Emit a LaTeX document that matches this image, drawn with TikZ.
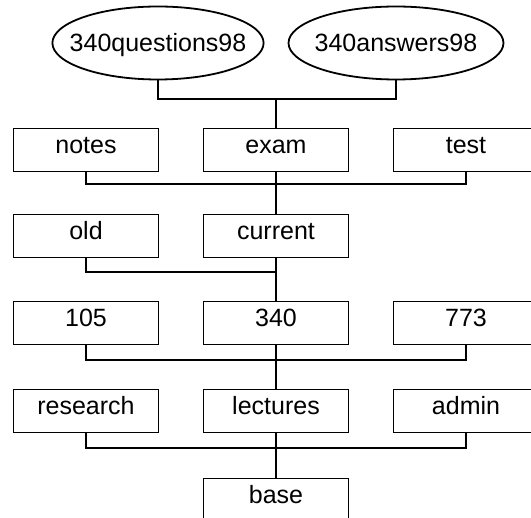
\documentclass[tikz,border=0pt]{standalone}
\usepackage{fontspec}
\setmainfont{Liberation Sans}
\usetikzlibrary{shapes.geometric}

\begin{document}
\begin{tikzpicture}[x=1pt, y=-1pt, line width=1.8pt,
  font=\fontsize{25}{30}\selectfont,
  dirbox/.style={draw, minimum width=145pt, minimum height=43pt, inner sep=0pt,
    text height=18pt, text depth=10pt},
  filebox/.style={draw, ellipse, minimum height=73pt, inner ysep=0pt,
    text height=18pt, text depth=0pt}]
  \useasboundingbox (0,0) rectangle (531,518);

  % files at the top
  \node[filebox, inner xsep=-13.6pt] (questions) at (158,43) {340questions98};
  \node[filebox, inner xsep=-5.3pt] (answers) at (396,43) {340answers98};

  % directories
  \node[dirbox] (notes) at (86,150) {notes};
  \node[dirbox] (exam) at (276,150) {exam};
  \node[dirbox] (test) at (466,150) {test};
  \node[dirbox] (old) at (86,236) {old};
  \node[dirbox] (current) at (276,236) {current};
  \node[dirbox] (c105) at (86,323) {105};
  \node[dirbox] (c340) at (276,323) {340};
  \node[dirbox] (c773) at (466,323) {773};
  \node[dirbox] (research) at (86,411) {research};
  \node[dirbox] (lectures) at (276,411) {lectures};
  \node[dirbox] (admin) at (466,411) {admin};
  \node[dirbox] (base) at (276,500) {base};

  % junctions
  \coordinate (J1) at (276,99);
  \coordinate (J2) at (276,184);
  \coordinate (J3) at (276,272);
  \coordinate (J4) at (276,360);
  \coordinate (J5) at (276,448);

  \draw (questions.south) |- (J1) -| (answers.south);
  \draw (J1) -- (exam.north);
  \draw (notes.south) |- (J2) -| (test.south);
  \draw (exam.south) -- (current.north);
  \draw (old.south) |- (J3);
  \draw (current.south) -- (c340.north);
  \draw (c105.south) |- (J4) -| (c773.south);
  \draw (c340.south) -- (lectures.north);
  \draw (research.south) |- (J5) -| (admin.south);
  \draw (lectures.south) -- (base.north);
\end{tikzpicture}
\end{document}
